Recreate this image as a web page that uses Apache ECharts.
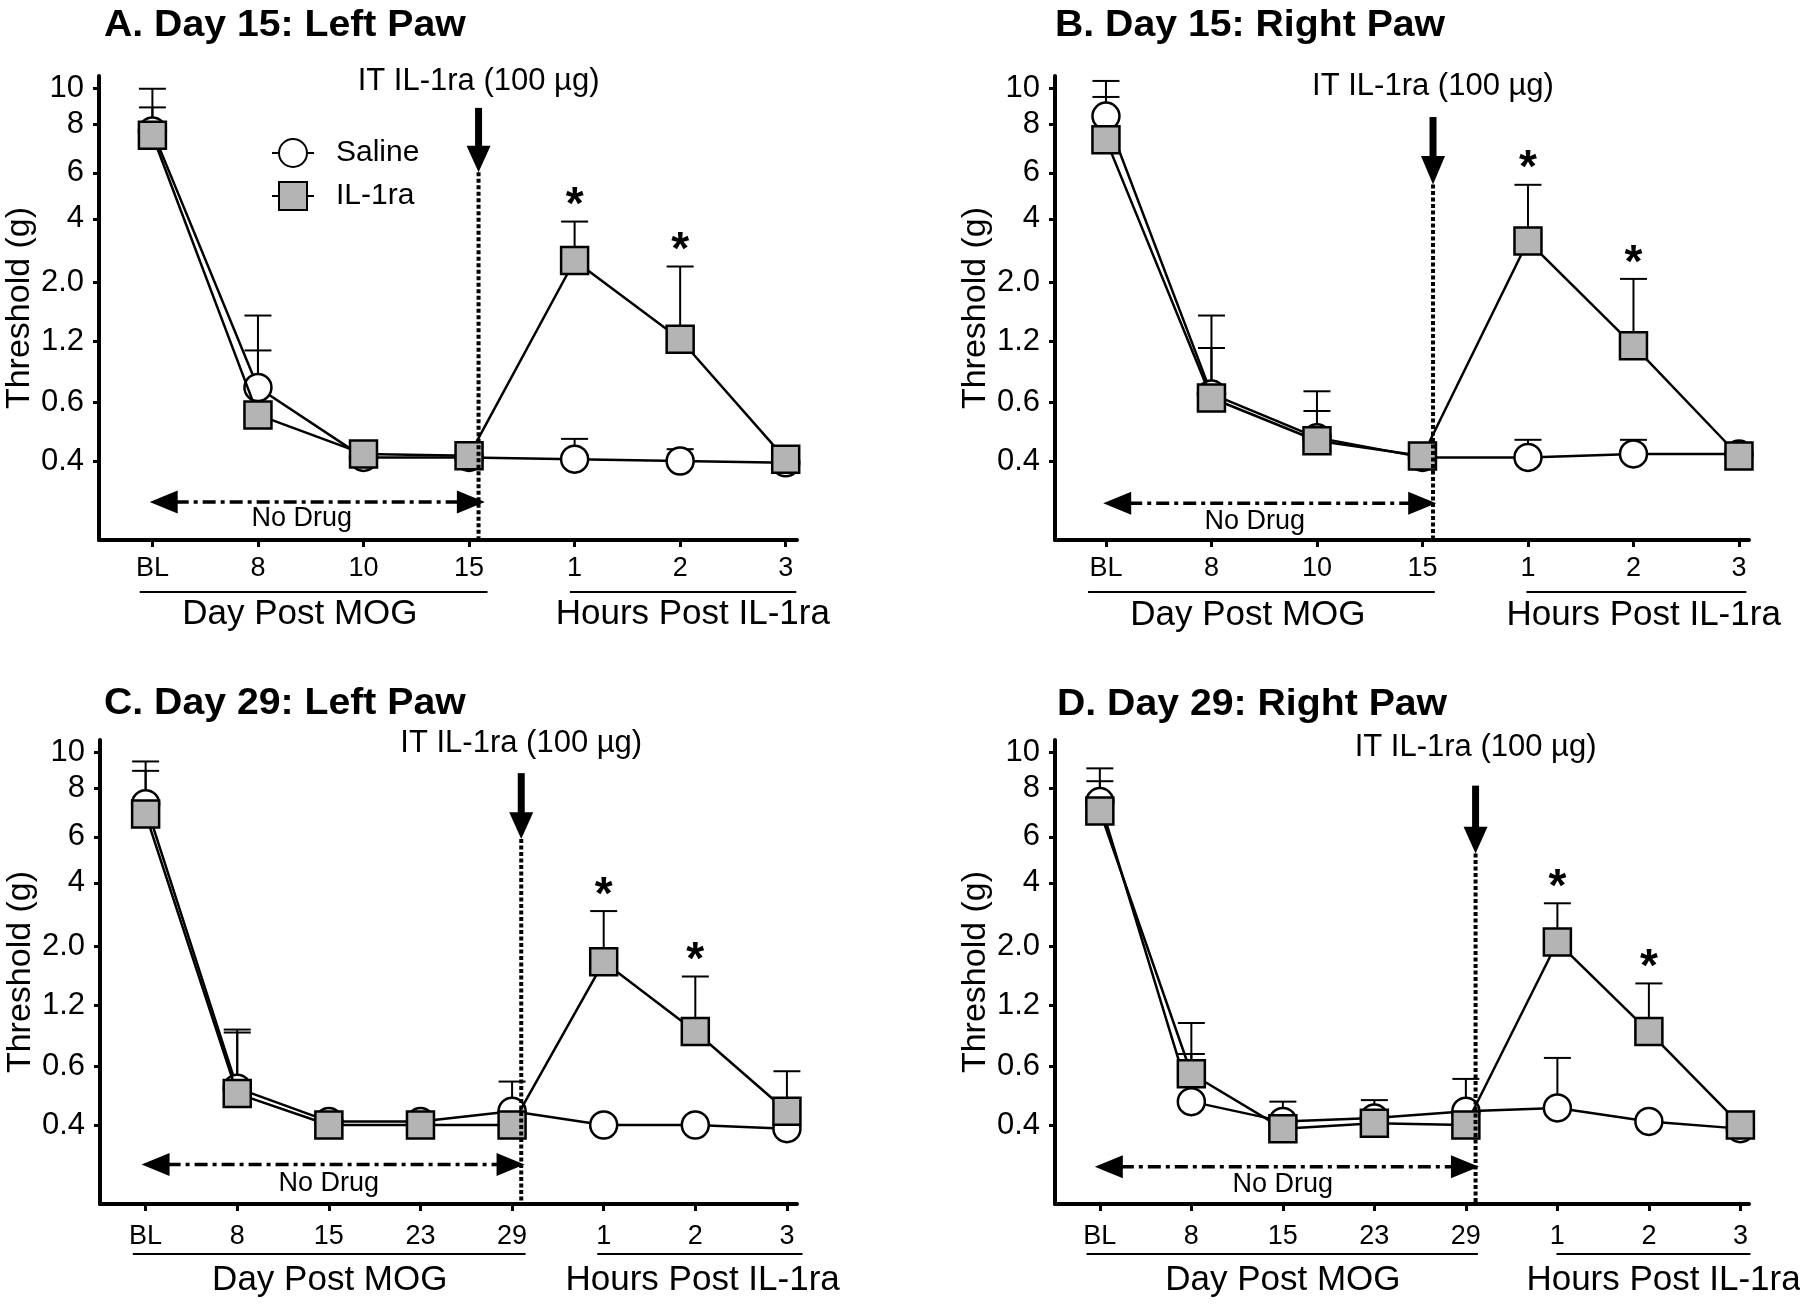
<!DOCTYPE html>
<html>
<head>
<meta charset="utf-8">
<script src="https://cdn.jsdelivr.net/npm/echarts@6/dist/echarts.min.js"></script>
<style>
html,body{margin:0;padding:0;background:#fff;}
#chart{width:1800px;height:1306px;}
</style>
</head>
<body>
<div id="chart"></div>
<script>
// ---------- Y axis (von Frey filament scale, labelled in grams) ----------
const yTickLabels = ['0.4', '0.6', '1.2', '2.0', '4', '6', '8', '10'];
const yTickGrams  = [0.4, 0.6, 1.2, 2.0, 4, 6, 8, 10];
const yTickUnits  = [3.61, 3.84, 4.08, 4.31, 4.56, 4.74, 4.93, 5.07]; // filament log units
const Y_MIN = 3.30, Y_MAX = 5.12;

// ---------- categories ----------
const catsDay15 = ['BL', '8', '10', '15', '1', '2', '3'];
const catsDay29 = ['BL', '8', '15', '23', '29', '1', '2', '3'];

// ---------- Panel A: Day 15, left paw (threshold, g) ----------
const aSaline      = [7.7, 0.71, 0.41, 0.41, 0.405, 0.40, 0.395];
const aIl1ra       = [7.5, 0.55, 0.42, 0.415, 2.54, 1.22, 0.405];
const aSalineUpper = [10.0, 1.08, null, null, 0.466, 0.434, null];
const aIl1raUpper  = [8.9, 1.50, null, null, 3.88, 2.38, null];
const aSig         = [0, 0, 0, 0, 1, 1, 0];

// ---------- Panel B: Day 15, right paw ----------
const bSaline      = [8.43, 0.66, 0.47, 0.41, 0.41, 0.42, 0.42];
const bIl1ra       = [7.31, 0.63, 0.46, 0.414, 3.14, 1.14, 0.414];
const bSalineUpper = [10.5, 1.11, 0.565, null, 0.463, 0.463, null];
const bIl1raUpper  = [9.5, 1.50, 0.68, null, 5.4, 2.08, null];
const bSig         = [0, 0, 0, 0, 1, 1, 0];

// ---------- Panel C: Day 29, left paw ----------
const cSaline      = [7.31, 0.516, 0.41, 0.41, 0.44, 0.40, 0.40, 0.39];
const cIl1ra       = [6.87, 0.497, 0.40, 0.40, 0.40, 1.75, 0.89, 0.44];
const cSalineUpper = [9.47, 0.91, null, null, 0.54, null, null, null];
const cIl1raUpper  = [8.93, 0.88, null, null, null, 2.94, 1.54, 0.58];
const cSig         = [0, 0, 0, 0, 0, 1, 1, 0];

// ---------- Panel D: Day 29, right paw ----------
const dSaline      = [7.4, 0.47, 0.41, 0.42, 0.44, 0.45, 0.41, 0.39];
const dIl1ra       = [7.0, 0.57, 0.39, 0.405, 0.40, 2.1, 0.89, 0.40];
const dSalineUpper = [9.07, 0.69, 0.47, 0.475, 0.55, 0.66, null, null];
const dIl1raUpper  = [8.37, 0.98, null, null, null, 3.2, 1.45, null];
const dSig         = [0, 0, 0, 0, 0, 1, 1, 0];

// ---------- texts ----------
const injectionText = 'IT IL-1ra (100 µg)';
const noDrugText = 'No Drug';
const dayAxisText = 'Day Post MOG';
const hoursAxisText = 'Hours Post IL-1ra';
const yAxisText = 'Threshold (g)';
const legendNames = ['Saline', 'IL-1ra'];

const FONT = '"Liberation Sans", Arial, Helvetica, sans-serif';

function toUnits(g) {
  const n = yTickGrams.length;
  let i = 0;
  if (g <= yTickGrams[0]) i = 0;
  else if (g >= yTickGrams[n - 1]) i = n - 2;
  else { while (g > yTickGrams[i + 1]) i++; }
  const g0 = yTickGrams[i], g1 = yTickGrams[i + 1], u0 = yTickUnits[i], u1 = yTickUnits[i + 1];
  return u0 + (Math.log(g / g0) / Math.log(g1 / g0)) * (u1 - u0);
}

// ---------- layout (positions only) ----------
const panels = [
  { title: 'A. Day 15: Left Paw', cats: catsDay15, saline: aSaline, il1ra: aIl1ra, sUp: aSalineUpper, iUp: aIl1raUpper, sig: aSig,
    L: { grid: { left: 99, top: 76, width: 698, height: 464 }, xMin: -0.506, xMax: 6.107, titleX: 104, titleY: 26,
         injectX: 3.09, arrow: [4.995, 4.846, 4.742], labelY: 5.098,
         noDrug: { x1: -0.026, x2: 3.15, y: 3.449, tx: 1.415, ty: 3.385 },
         dayLine: [-0.12, 3.175], hoursLine: [3.955, 6.10], dayTx: 1.397, hoursTx: 5.12,
         tickMargin: 15, lineOff: 52, textOff: 74 } },
  { title: 'B. Day 15: Right Paw', cats: catsDay15, saline: bSaline, il1ra: bIl1ra, sUp: bSalineUpper, iUp: bIl1raUpper, sig: bSig,
    L: { grid: { left: 1055, top: 76, width: 694, height: 464 }, xMin: -0.483, xMax: 6.095, titleX: 1055, titleY: 26,
         injectX: 3.10, arrow: [4.959, 4.806, 4.694], labelY: 5.078,
         noDrug: { x1: -0.026, x2: 3.13, y: 3.444, tx: 1.41, ty: 3.374 },
         dayLine: [-0.17, 3.117], hoursLine: [3.986, 6.07], dayTx: 1.345, hoursTx: 5.097,
         tickMargin: 15, lineOff: 52, textOff: 75 } },
  { title: 'C. Day 29: Left Paw', cats: catsDay29, saline: cSaline, il1ra: cIl1ra, sUp: cSalineUpper, iUp: cIl1raUpper, sig: cSig,
    L: { grid: { left: 100, top: 740, width: 697, height: 464 }, xMin: -0.498, xMax: 7.11, titleX: 104, titleY: 704,
         injectX: 4.10, arrow: [4.990, 4.837, 4.732], labelY: 5.108,
         noDrug: { x1: -0.044, x2: 4.136, y: 3.455, tx: 2.0, ty: 3.382 },
         dayLine: [-0.14, 4.147], hoursLine: [4.93, 7.17], dayTx: 2.01, hoursTx: 6.08,
         tickMargin: 19, lineOff: 50, textOff: 76 } },
  { title: 'D. Day 29: Right Paw', cats: catsDay29, saline: dSaline, il1ra: dIl1ra, sUp: dSalineUpper, iUp: dIl1raUpper, sig: dSig,
    L: { grid: { left: 1055, top: 740, width: 694, height: 464 }, xMin: -0.49, xMax: 7.094, titleX: 1057, titleY: 705,
         injectX: 4.106, arrow: [4.941, 4.780, 4.675], labelY: 5.089,
         noDrug: { x1: -0.055, x2: 4.143, y: 3.446, tx: 2.0, ty: 3.378 },
         dayLine: [-0.145, 4.131], hoursLine: [4.99, 7.11], dayTx: 2.0, hoursTx: 6.16,
         tickMargin: 19, lineOff: 50, textOff: 76 } }
];

function seg(x1, y1, x2, y2, style) {
  return { type: 'line', shape: { x1, y1, x2, y2 }, style: Object.assign({ stroke: '#000' }, style) };
}
function txt(x, y, text, font, align) {
  return { type: 'text', x, y, style: { text, font, fill: '#000', align: align || 'center', verticalAlign: 'middle' } };
}
function tri(points) {
  return { type: 'polygon', shape: { points }, style: { fill: '#000' } };
}

function renderErr(params, api) {
  const x = api.value(0), m = api.value(1), u = api.value(2), sig = api.value(3);
  const p0 = api.coord([x, m]), p1 = api.coord([x, u]);
  const half = 13.5;
  const kids = [
    seg(p0[0], p0[1], p1[0], p1[1], { lineWidth: 2 }),
    seg(p1[0] - half, p1[1], p1[0] + half, p1[1], { lineWidth: 2 })
  ];
  if (sig) kids.push(txt(p1[0], p1[1] - 15, '*', 'bold 46px ' + FONT, 'center'));
  return { type: 'group', children: kids };
}

function makeAnnot(L) {
  return function (params, api) {
    const c = (x, y) => api.coord([x, y]);
    const top = c(L.injectX, L.arrow[0]), head = c(L.injectX, L.arrow[1]), tip = c(L.injectX, L.arrow[2]);
    const base = c(L.injectX, Y_MIN);
    const bottom = base[1];
    const kids = [];
    kids.push(seg(tip[0], tip[1], base[0], base[1], { lineWidth: 4, lineDash: [4, 2.5] }));
    kids.push(seg(top[0], top[1], head[0], head[1] + 1, { lineWidth: 7 }));
    kids.push(tri([[head[0] - 12, head[1]], [head[0] + 12, head[1]], [tip[0], tip[1]]]));
    const lab = c(L.injectX, L.labelY);
    kids.push(txt(lab[0], lab[1], injectionText, '31px ' + FONT));
    const nl = c(L.noDrug.x1, L.noDrug.y), nr = c(L.noDrug.x2, L.noDrug.y);
    kids.push(seg(nl[0] + 26, nl[1], nr[0] - 26, nr[1], { lineWidth: 3.5, lineDash: [13, 5, 4, 5] }));
    kids.push(tri([[nl[0], nl[1]], [nl[0] + 28, nl[1] - 11.5], [nl[0] + 28, nl[1] + 11.5]]));
    kids.push(tri([[nr[0], nr[1]], [nr[0] - 28, nr[1] - 11.5], [nr[0] - 28, nr[1] + 11.5]]));
    const nt = c(L.noDrug.tx, L.noDrug.ty);
    kids.push(txt(nt[0], nt[1], noDrugText, '27px ' + FONT));
    const d1 = c(L.dayLine[0], Y_MIN)[0], d2 = c(L.dayLine[1], Y_MIN)[0];
    const h1 = c(L.hoursLine[0], Y_MIN)[0], h2 = c(L.hoursLine[1], Y_MIN)[0];
    kids.push(seg(d1, bottom + L.lineOff, d2, bottom + L.lineOff, { lineWidth: 2 }));
    kids.push(seg(h1, bottom + L.lineOff, h2, bottom + L.lineOff, { lineWidth: 2 }));
    kids.push(txt(c(L.dayTx, Y_MIN)[0], bottom + L.textOff, dayAxisText, '35px ' + FONT));
    kids.push(txt(c(L.hoursTx, Y_MIN)[0], bottom + L.textOff, hoursAxisText, '35px ' + FONT));
    return { type: 'group', children: kids };
  };
}

const grids = [], xAxes = [], yAxes = [], series = [], graphics = [];
panels.forEach((p, i) => {
  const L = p.L;
  grids.push(Object.assign({ outerBoundsMode: 'none', containLabel: false }, L.grid));
  xAxes.push({
    type: 'value', gridIndex: i, min: L.xMin, max: L.xMax,
    axisLine: { show: true, onZero: false, lineStyle: { color: '#000', width: 4 } },
    axisTick: { show: true, customValues: p.cats.map((_, j) => j), length: 7, lineStyle: { color: '#000', width: 3 } },
    axisLabel: { show: true, customValues: p.cats.map((_, j) => j), margin: L.tickMargin,
                 formatter: v => p.cats[Math.round(v)], color: '#000', fontSize: 27, fontFamily: FONT },
    splitLine: { show: false }
  });
  yAxes.push({
    type: 'value', gridIndex: i, min: Y_MIN, max: Y_MAX,
    name: yAxisText, nameLocation: 'middle', nameGap: 62, nameRotate: 90,
    nameTextStyle: { color: '#000', fontSize: 34, fontFamily: FONT },
    axisLine: { show: true, onZero: false, lineStyle: { color: '#000', width: 4 } },
    axisTick: { show: true, customValues: yTickUnits, length: 6, lineStyle: { color: '#000', width: 3 } },
    axisLabel: { show: true, customValues: yTickUnits, margin: 15, color: '#000', fontSize: 31, fontFamily: FONT,
                 formatter: v => { const k = yTickUnits.findIndex(u => Math.abs(u - v) < 1e-6); return k >= 0 ? yTickLabels[k] : ''; } },
    splitLine: { show: false }
  });

  const errData = [];
  p.sUp.forEach((u, j) => { if (u != null) errData.push([j, toUnits(p.saline[j]), toUnits(u), 0]); });
  p.iUp.forEach((u, j) => { if (u != null) errData.push([j, toUnits(p.il1ra[j]), toUnits(u), p.sig[j]]); });

  series.push({
    type: 'custom', name: 'SEM', xAxisIndex: i, yAxisIndex: i, z: 1, silent: true, clip: false,
    encode: { x: 0, y: [1, 2] }, data: errData, renderItem: renderErr
  });
  series.push({
    type: 'line', name: legendNames[0], xAxisIndex: i, yAxisIndex: i, z: 2,
    data: p.saline.map((g, j) => [j, toUnits(g)]),
    symbol: 'circle', symbolSize: 27, showAllSymbol: true,
    itemStyle: { color: '#ffffff', borderColor: '#000', borderWidth: 2.5 },
    lineStyle: { color: '#000', width: 2.5 }, emphasis: { disabled: true }
  });
  series.push({
    type: 'line', name: legendNames[1], xAxisIndex: i, yAxisIndex: i, z: 3,
    data: p.il1ra.map((g, j) => [j, toUnits(g)]),
    symbol: 'rect', symbolSize: 27, showAllSymbol: true,
    itemStyle: { color: '#b4b4b4', borderColor: '#000', borderWidth: 2.5 },
    lineStyle: { color: '#000', width: 2.5 }, emphasis: { disabled: true }
  });
  series.push({
    type: 'custom', name: 'annotation', xAxisIndex: i, yAxisIndex: i, z: 6, silent: true, clip: false,
    encode: { x: 0, y: 1 }, data: [[L.injectX, L.labelY]], renderItem: makeAnnot(L)
  });

  graphics.push({
    type: 'text', x: L.titleX, y: L.titleY, scaleX: 1.06, z: 10,
    style: { text: p.title, font: 'bold 37px ' + FONT, fill: '#000', align: 'left', verticalAlign: 'middle' }
  });
});

const chart = echarts.init(document.getElementById('chart'), null, { renderer: 'canvas' });
chart.setOption({
  backgroundColor: '#ffffff',
  animation: false,
  grid: grids,
  xAxis: xAxes,
  yAxis: yAxes,
  legend: {
    data: legendNames, orient: 'vertical', left: 266, top: 133, itemWidth: 42, itemHeight: 35, itemGap: 13,
    textStyle: { color: '#000', fontSize: 30, fontFamily: FONT, padding: [0, 0, 0, 17] },
    selectedMode: false
  },
  graphic: graphics,
  series: series
});
</script>
</body>
</html>
